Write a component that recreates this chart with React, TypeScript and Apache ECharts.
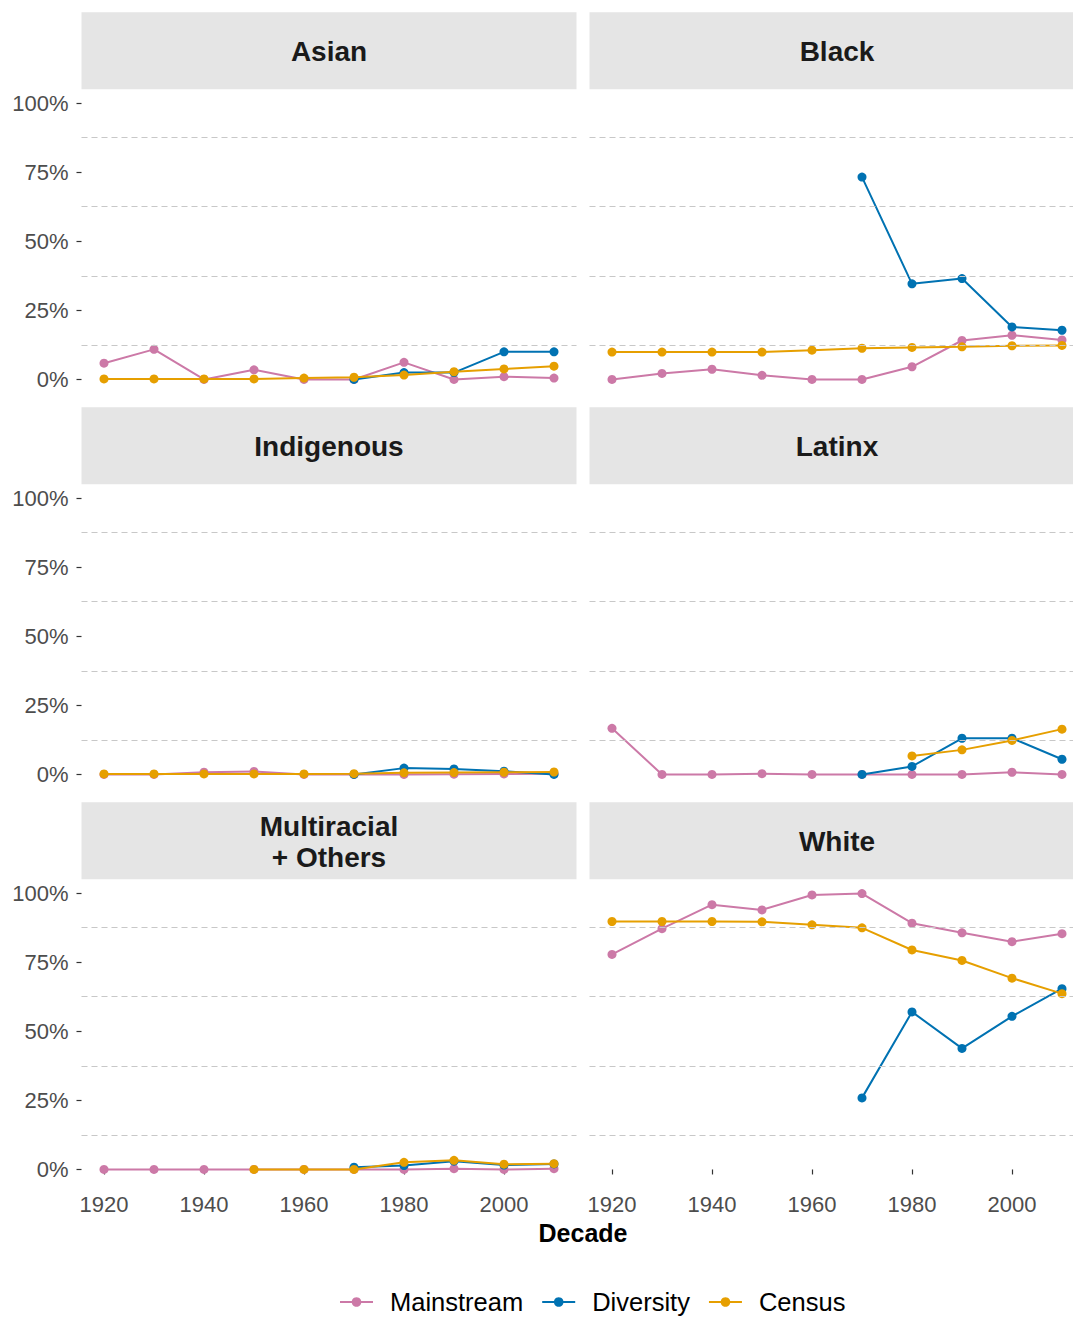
import React, { useEffect, useRef } from 'react';
import * as echarts from 'echarts';

// ---------- data ----------
const decades = [1920, 1930, 1940, 1950, 1960, 1970, 1980, 1990, 2000, 2010];
const xTickValues = [1920, 1940, 1960, 1980, 2000];
const yTickValues = [0, 25, 50, 75, 100];
const minorGridValues = [12.5, 37.5, 62.5, 87.5];
const seriesNames = ['Mainstream', 'Diversity', 'Census'];
const seriesColors = ['#CC79A7', '#0072B2', '#E69F00'];
const panelNames = ['Asian', 'Black', 'Indigenous', 'Latinx', 'Multiracial\n+ Others', 'White'];

const asianMainstream = [5.9, 10.9, 0, 3.5, 0, 0, 6.2, 0, 1.0, 0.5];
const asianDiversity = [null, null, null, null, null, 0, 2.5, 2.5, 10.0, 10.0];
const asianCensus = [0.2, 0.2, 0.2, 0.2, 0.5, 0.8, 1.6, 2.8, 3.8, 4.8];

const blackMainstream = [0, 2.2, 3.7, 1.5, 0, 0, 4.6, 14.1, 16.0, 14.3];
const blackDiversity = [null, null, null, null, null, 73.2, 34.6, 36.5, 19.0, 17.8];
const blackCensus = [9.9, 9.9, 9.9, 9.9, 10.6, 11.3, 11.6, 11.8, 12.2, 12.3];

const indigenousMainstream = [0, 0, 0.8, 1.1, 0, 0, 0, 0.1, 0.2, 0.3];
const indigenousDiversity = [null, null, null, null, null, 0, 2.3, 2.0, 1.2, 0];
const indigenousCensus = [0.2, 0.2, 0.2, 0.2, 0.2, 0.3, 0.6, 0.7, 0.8, 0.9];

const latinxMainstream = [16.7, 0, 0, 0.3, 0, 0, 0, 0, 0.8, 0];
const latinxDiversity = [null, null, null, null, null, 0, 2.9, 13.1, 13.1, 5.5];
const latinxCensus = [null, null, null, null, null, null, 6.7, 8.9, 12.3, 16.4];

const multiMainstream = [0, 0, 0, 0, 0, 0, 0, 0.3, 0, 0.3];
const multiDiversity = [null, null, null, null, null, 0.8, 1.4, 3.0, 1.6, 2.0];
const multiCensus = [null, null, null, 0, 0, 0, 2.6, 3.3, 1.9, 2.1];

const whiteMainstream = [77.8, 87.1, 95.8, 93.9, 99.3, 99.8, 89.1, 85.6, 82.4, 85.3];
const whiteDiversity = [null, null, null, null, null, 25.9, 57.0, 43.8, 55.4, 65.4];
const whiteCensus = [89.7, 89.7, 89.7, 89.6, 88.5, 87.4, 79.4, 75.6, 69.2, 63.6];

const panelValues = [
  [asianMainstream, asianDiversity, asianCensus],
  [blackMainstream, blackDiversity, blackCensus],
  [indigenousMainstream, indigenousDiversity, indigenousCensus],
  [latinxMainstream, latinxDiversity, latinxCensus],
  [multiMainstream, multiDiversity, multiCensus],
  [whiteMainstream, whiteDiversity, whiteCensus],
];

const toPairs = (vals: (number | null)[]) =>
  decades.map((d, i) => [d, vals[i]]).filter((p) => p[1] !== null);

const FONT = "'Liberation Sans', Arial, sans-serif";

export default function App() {
  const ref = useRef<HTMLDivElement>(null);
  useEffect(() => {
    const chart = echarts.init(ref.current!, null, { renderer: 'svg' });
    const colLeft = [81.5, 589.5];
    const rowTop = [89.2, 484.2, 879.2];
    const panelW = 495;
    const panelH = 304.1;
    const stripH = 77;

    const grid: any[] = [];
    const xAxis: any[] = [];
    const yAxis: any[] = [];
    const series: any[] = [];
    const graphic: any[] = [];

    panelNames.forEach((name, idx) => {
      const r = Math.floor(idx / 2);
      const c = idx % 2;
      const bottom = r === 2;
      const left = c === 0;
      grid.push({
        left: colLeft[c],
        top: rowTop[r],
        width: panelW,
        height: panelH,
        containLabel: false,
        outerBoundsMode: 'none',
      });
      xAxis.push({
        type: 'value',
        gridIndex: idx,
        min: 1915.5,
        max: 2014.5,
        axisLine: { show: false },
        splitLine: { show: false },
        axisTick: {
          show: bottom,
          customValues: xTickValues,
          length: 5,
          lineStyle: { color: '#333333', width: 1.2 },
        },
        axisLabel: {
          show: bottom,
          customValues: xTickValues,
          margin: 10,
          color: '#4d4d4d',
          fontSize: 22,
          fontFamily: FONT,
          formatter: (v: number) => String(v),
        },
      });
      yAxis.push({
        type: 'value',
        gridIndex: idx,
        min: -5,
        max: 105,
        axisLine: { show: false },
        splitLine: { show: false },
        axisTick: {
          show: left,
          customValues: yTickValues,
          length: 5,
          lineStyle: { color: '#333333', width: 1.2 },
        },
        axisLabel: {
          show: left,
          customValues: yTickValues,
          margin: 13,
          color: '#4d4d4d',
          fontSize: 22,
          fontFamily: FONT,
          formatter: (v: number) => `${v}%`,
        },
      });
      // dashed minor grid lines
      series.push({
        type: 'line',
        xAxisIndex: idx,
        yAxisIndex: idx,
        data: [],
        silent: true,
        z: 1,
        markLine: {
          silent: true,
          symbol: ['none', 'none'],
          label: { show: false },
          lineStyle: { color: '#c8c8c8', width: 1.2, type: [6, 4] },
          emphasis: { disabled: true },
          data: minorGridValues.map((v) => ({ yAxis: v })),
        },
      });
      panelValues[idx].forEach((vals, k) => {
        series.push({
          name: seriesNames[k],
          type: 'line',
          xAxisIndex: idx,
          yAxisIndex: idx,
          data: toPairs(vals as (number | null)[]),
          symbol: 'circle',
          symbolSize: 9,
          showSymbol: true,
          z: 2 + k,
          lineStyle: { color: seriesColors[k], width: 2 },
          itemStyle: { color: seriesColors[k] },
          emphasis: { disabled: true },
        });
      });
      // strip
      const sx = colLeft[c];
      const sy = rowTop[r] - stripH;
      graphic.push({
        type: 'rect',
        shape: { x: sx, y: sy, width: panelW, height: stripH },
        style: { fill: '#e5e5e5' },
        silent: true,
      });
      graphic.push({
        type: 'text',
        x: sx + panelW / 2,
        y: sy + stripH / 2 + 1,
        silent: true,
        style: {
          text: name,
          fontSize: 28,
          fontWeight: 'bold',
          fontFamily: FONT,
          fill: '#1a1a1a',
          textAlign: 'center',
          textVerticalAlign: 'middle',
          lineHeight: 31,
        },
      });
    });

    graphic.push({
      type: 'text',
      x: 583,
      y: 1233,
      silent: true,
      style: {
        text: 'Decade',
        fontSize: 25,
        fontWeight: 'bold',
        fontFamily: FONT,
        fill: '#000000',
        textAlign: 'center',
        textVerticalAlign: 'middle',
      },
    });

    chart.setOption({
      animation: false,
      backgroundColor: '#ffffff',
      grid,
      xAxis,
      yAxis,
      series,
      graphic,
      legend: {
        data: seriesNames,
        left: 339,
        top: 1289,
        padding: 0,
        itemWidth: 33,
        itemHeight: 12,
        itemGap: 18,
        selectedMode: false,
        textStyle: {
          fontSize: 25.5,
          fontFamily: FONT,
          color: '#000000',
          padding: [0, 0, 0, 12],
        },
      },
    });
    return () => chart.dispose();
  }, []);
  return (
    <div
      ref={ref}
      style={{ position: 'absolute', left: 0, top: 0, width: 1073, height: 1318 }}
    />
  );
}
